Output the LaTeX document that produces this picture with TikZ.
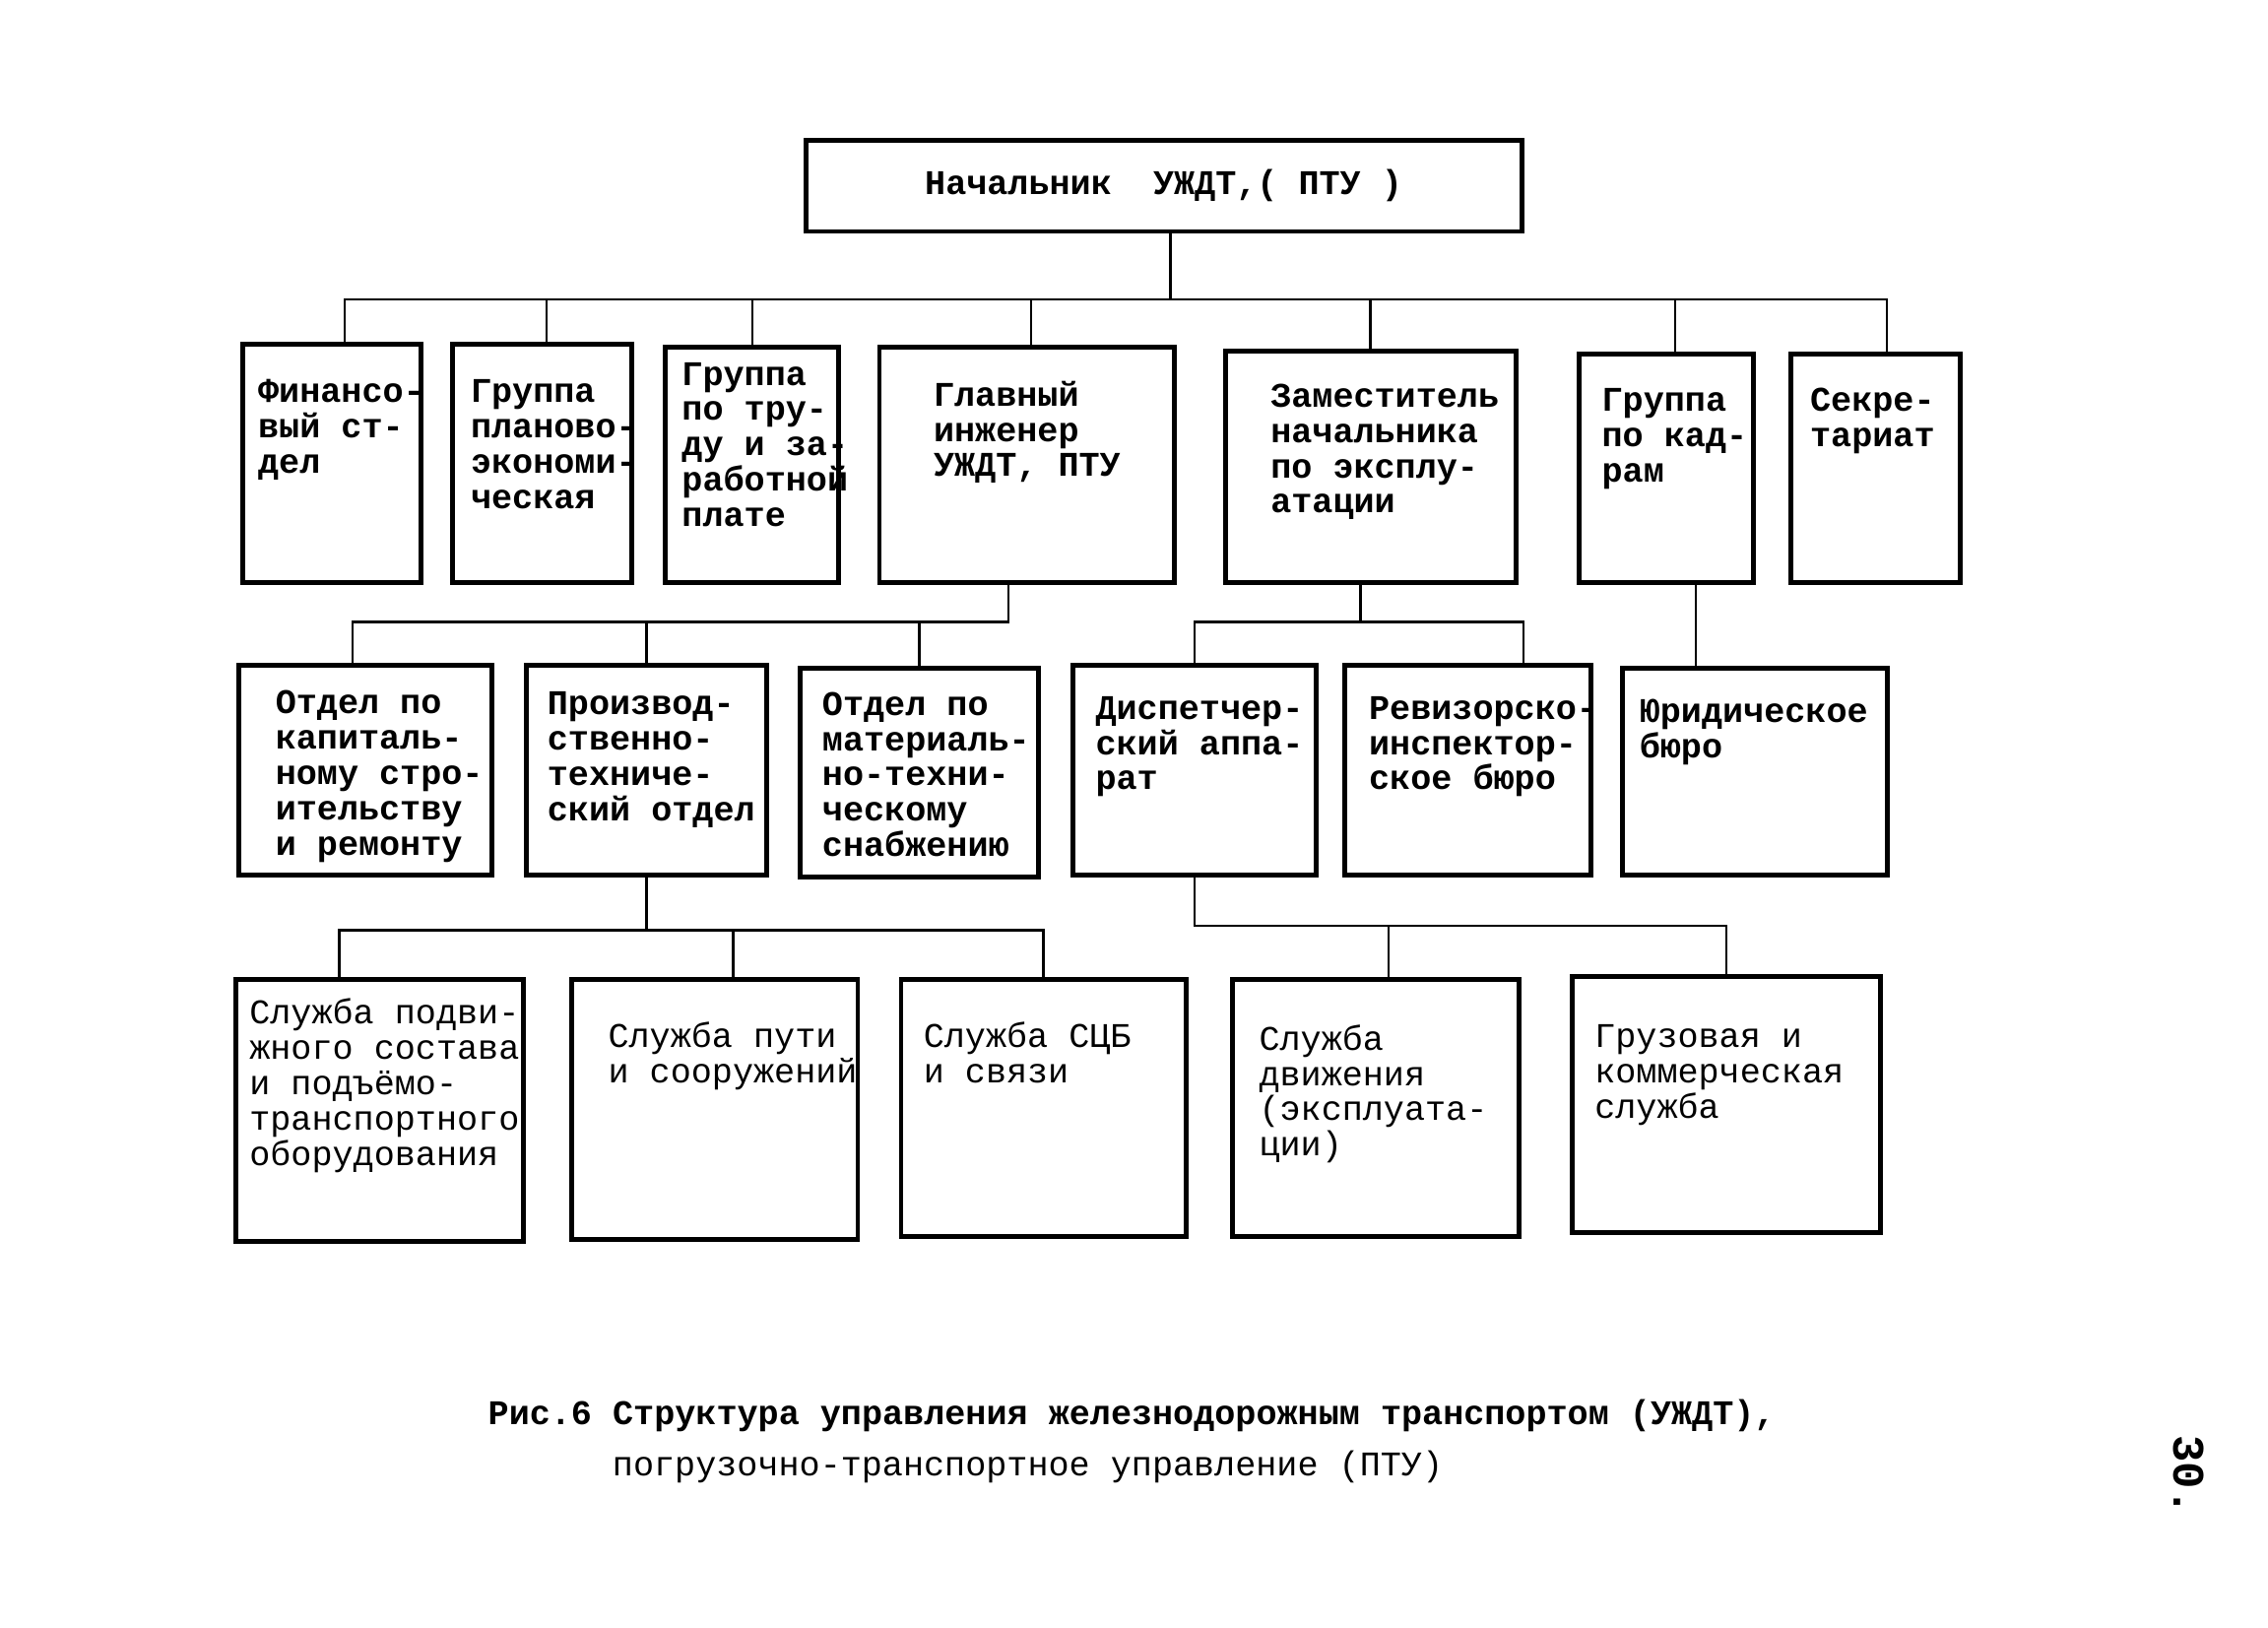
\documentclass[tikz,border=0pt]{standalone}
\usepackage{fontspec}
\setmainfont{Liberation Mono}
\usetikzlibrary{positioning}

\begin{document}
\begin{tikzpicture}[x=0.01469cm,y=-0.01469cm,
    box/.style={draw, line width=1.4pt, inner sep=0pt, outer sep=0pt, anchor=north west},
    txt/.style={inner sep=0pt, anchor=north west, align=left, font=\fontsize{10}{10.2}\selectfont\bfseries},
    txtlight/.style={txt, font=\fontsize{10}{10.2}\selectfont},
    link/.style={line width=0.7pt}]
    \useasboundingbox (0,0) rectangle (1568,1125);

    % head
    \node[box, anchor=north west, font=\fontsize{10}{10.2}\selectfont\bfseries,
          minimum width={(1052-557)*0.01469cm}, minimum height={(160-97)*0.01469cm}] (chief) at (557,97) {Начальник~~УЖДТ,(~ПТУ~)};

    % levels 1 and 2
    \foreach \n/\xa/\ya/\xb/\yb/\dx/\dy/\t in {
        fin/168/238/291/403/10/24/{Финансо-\\вый ст-\\дел},
        plan/313/238/437/403/12/24/{Группа\\планово-\\экономи-\\ческая},
        trud/460/240/580/403/11/10/{Группа\\по тру-\\ду и за-\\работной\\плате},
        eng/608/240/812/403/37/23/{Главный\\инженер\\УЖДТ, ПТУ},
        zam/847/243/1048/403/31/22/{Заместитель\\начальника\\по эксплу-\\атации},
        kad/1092/245/1212/403/15/23/{Группа\\по кад-\\рам},
        sec/1238/245/1355/403/13/23/{Секре-\\тариат},
        kap/165/460/340/605/25/17/{Отдел по\\капиталь-\\ному стро-\\ительству\\и ремонту},
        prod/364/460/530/605/14/18/{Производ-\\ственно-\\техниче-\\ский отдел},
        snab/553/462/718/606/15/16/{Отдел по\\материаль-\\но-техни-\\ческому\\снабжению},
        disp/742/460/910/605/15/21/{Диспетчер-\\ский аппа-\\рат},
        rev/930/460/1100/605/16/21/{Ревизорско-\\инспектор-\\ское бюро},
        jur/1122/462/1305/605/11/21/{Юридическое\\бюро}} {
        \node[box, minimum width={(\xb-\xa)*0.01469cm}, minimum height={(\yb-\ya)*0.01469cm}] (\n) at (\xa,\ya) {};
        \node[txt] (\n-t) at ([shift={(\dx,\dy)}]\n.north west) {\t};
    }

    % level 3
    \foreach \n/\xa/\ya/\xb/\yb/\dx/\dy/\t in {
        podv/163/677/362/858/9/13/{Служба подви-\\жного состава\\и подъёмо-\\транспортного\\оборудования},
        put/395/677/593/857/25/29/{Служба пути\\и сооружений},
        scb/623/677/820/855/15/29/{Служба СЦБ\\и связи},
        dvizh/852/677/1050/855/18/31/{Служба\\движения\\(эксплуата-\\ции)},
        gruz/1087/675/1300/852/15/33/{Грузовая и\\коммерческая\\служба}} {
        \node[box, minimum width={(\xb-\xa)*0.01469cm}, minimum height={(\yb-\ya)*0.01469cm}] (\n) at (\xa,\ya) {};
        \node[txtlight] (\n-t) at ([shift={(\dx,\dy)}]\n.north west) {\t};
    }

    % buses
    \coordinate (bus1) at (0,207);
    \coordinate (bus2) at (0,430);
    \coordinate (bus3) at (0,643);
    \coordinate (bus4) at (0,640);

    \draw[link] ([xshift=0.07cm]chief.south) -- ([xshift=0.07cm]chief.south |- bus1);
    \draw[link] ([xshift=0.13cm]fin.north) |- ([xshift=0.12cm]sec.north |- bus1) -- ([xshift=0.12cm]sec.north);
    \foreach \n/\s in {plan/0.04,trud/0,eng/0.04,zam/0,kad/0.09}
        \draw[link] ([xshift=\s cm]\n.north) -- ([xshift=\s cm]\n.north |- bus1);

    \draw[link] ([xshift=-0.13cm]kap.north) |- ([xshift=-0.19cm]eng.south |- bus2) -- ([xshift=-0.19cm]eng.south);
    \foreach \n in {prod,snab}
        \draw[link] (\n.north) -- (\n.north |- bus2);

    \draw[link] (disp.north) |- ([xshift=0.56cm]rev.north |- bus2) -- ([xshift=0.56cm]rev.north);
    \draw[link] ([xshift=-0.1cm]zam.south) -- ([xshift=-0.1cm]zam.south |- bus2);
    \draw[link] ([xshift=0.3cm]kad.south) -- ([xshift=0.3cm]kad.south |- jur.north);

    \draw[link] (prod.south) -- (prod.south |- bus3);
    \draw[link] ([xshift=-0.41cm]podv.north) |- (scb.north |- bus3) -- (scb.north);
    \draw[link] ([xshift=0.19cm]put.north) -- ([xshift=0.19cm]put.north |- bus3);

    \draw[link] (disp.south) |- (gruz.north |- bus4) -- (gruz.north);
    \draw[link] ([xshift=0.13cm]dvizh.north) -- ([xshift=0.13cm]dvizh.north |- bus4);

    % caption
    \node[txt, anchor=base west] (cap1) at (337,985) {Рис.6 Структура управления железнодорожным транспортом (УЖДТ),};
    \node[txtlight, anchor=base west] (cap2) at (423,1020) {погрузочно-транспортное управление (ПТУ)};
    \node[rotate=-90, font=\fontsize{13}{13}\selectfont\bfseries] (page) at (1513,1020) {30.};
\end{tikzpicture}
\end{document}
